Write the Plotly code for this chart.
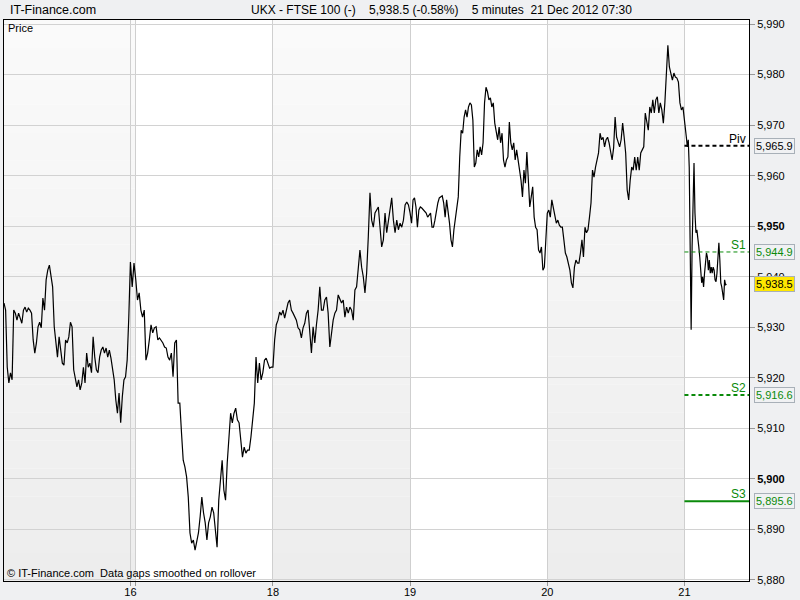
import plotly.graph_objects as go

# ---------------- data ----------------
sessions = ["14", "16", "17", "18", "19", "20", "21"]
session_bars = [94, 4, 102, 102, 102, 102, 32]      # 5-minute bars shown per session
shaded = [True, True, False, True, False, True, False]
labelled = [False, True, False, True, True, True, True]

prices_14 = [5934.8, 5933.4, 5922.1, 5919.0, 5921.0, 5919.6, 5933.4, 5932.8, 5931.4, 5932.8,
             5931.8, 5930.8, 5933.4, 5934.0, 5933.0, 5933.8, 5933.4, 5932.8, 5927.5, 5924.9,
             5926.9, 5930.1, 5931.0, 5929.9, 5935.8, 5933.4, 5939.4, 5941.3, 5942.3, 5940.3,
             5938.0, 5930.1, 5927.5, 5924.1, 5928.1, 5925.5, 5922.9, 5922.5, 5927.5, 5926.9,
             5928.1, 5931.0, 5930.1, 5921.6, 5920.2, 5918.2, 5919.6, 5917.6, 5919.0, 5922.1,
             5919.0, 5924.9, 5922.1, 5922.9, 5921.0, 5928.1, 5924.1, 5921.6, 5921.0, 5924.1,
             5925.5, 5926.1, 5924.9, 5925.9, 5924.1, 5925.5, 5923.9, 5921.6, 5919.6, 5915.6,
             5913.0, 5917.0, 5911.1, 5916.2, 5919.6, 5920.2, 5923.5, 5932.0]
prices_16 = [5942.9, 5938.0, 5942.7]
prices_17 = [5939.4, 5935.4, 5936.8, 5933.4, 5932.0, 5933.4, 5923.5, 5924.9, 5927.5, 5930.5,
             5928.9, 5929.9, 5930.1, 5927.5, 5927.9, 5927.5, 5926.9, 5926.1, 5925.9, 5924.1,
             5923.5, 5924.9, 5920.2, 5926.9, 5927.5, 5915.0, 5915.0, 5909.1, 5903.7, 5902.4,
             5900.4, 5896.4, 5889.3, 5887.3, 5887.9, 5885.9, 5887.3, 5889.3, 5892.5, 5896.4,
             5893.3, 5891.3, 5887.9, 5891.3, 5892.5, 5894.4, 5893.3, 5890.0, 5886.5, 5895.8,
             5900.4, 5903.7, 5897.8, 5895.8, 5903.2, 5907.7, 5913.0, 5911.1, 5913.0, 5914.0,
             5911.7, 5911.1, 5907.7, 5904.3, 5906.3, 5905.1, 5905.7, 5905.7, 5908.3, 5911.1,
             5915.0, 5924.1, 5919.0, 5922.9, 5919.6, 5921.0, 5923.5, 5923.9, 5922.9, 5921.9,
             5922.1]
prices_18 = [5922.1, 5927.5, 5930.5, 5931.4, 5933.0, 5932.4, 5933.4, 5931.8, 5933.4, 5934.8,
             5935.4, 5933.4, 5932.8, 5932.0, 5931.4, 5929.9, 5929.5, 5927.9, 5929.9, 5930.8,
             5932.8, 5933.4, 5928.9, 5924.9, 5930.1, 5926.9, 5930.5, 5933.4, 5938.0, 5933.4,
             5933.4, 5935.4, 5936.0, 5932.8, 5926.1, 5928.9, 5931.4, 5932.8, 5933.4, 5936.4,
             5935.4, 5934.8, 5935.4, 5932.0, 5934.0, 5932.8, 5934.0, 5933.4, 5931.4, 5937.4,
             5938.0, 5941.9, 5945.3, 5941.9, 5940.0, 5936.8, 5940.7, 5947.9, 5956.6, 5951.2,
             5949.8, 5952.6, 5953.2, 5953.8, 5949.8, 5945.9, 5947.3, 5952.6, 5948.7, 5951.2,
             5953.8, 5955.6, 5951.2, 5948.7, 5951.2, 5949.3, 5950.6, 5949.8, 5951.2, 5954.2,
             5954.8, 5954.2]
prices_19 = [5952.6, 5950.6, 5955.2, 5955.6, 5953.8, 5949.8, 5953.2, 5953.8, 5953.6, 5953.2,
             5952.8, 5952.6, 5951.8, 5952.2, 5952.6, 5949.8, 5949.8, 5951.2, 5953.2, 5954.6,
             5955.6, 5955.8, 5956.0, 5954.6, 5951.8, 5955.2, 5953.2, 5950.6, 5947.3, 5945.9,
             5949.3, 5951.8, 5953.8, 5955.8, 5963.7, 5969.0, 5968.4, 5971.6, 5973.0, 5971.6,
             5973.6, 5974.4, 5974.0, 5971.0, 5961.7, 5962.5, 5965.1, 5963.7, 5965.7, 5964.1,
             5966.5, 5974.4, 5977.5, 5976.6, 5975.0, 5975.4, 5973.6, 5974.4, 5970.4, 5969.0,
             5967.1, 5969.6, 5966.5, 5968.4, 5963.1, 5961.7, 5963.1, 5963.7, 5970.6, 5966.5,
             5965.1, 5966.5, 5963.1, 5965.1, 5962.5, 5961.1, 5959.1, 5955.8, 5961.1, 5958.5,
             5964.7, 5959.7, 5953.8, 5955.8, 5957.8, 5951.8, 5949.8, 5949.3, 5945.3, 5944.7,
             5945.9, 5941.3, 5941.9, 5947.3]
prices_20 = [5952.6, 5953.2, 5951.8, 5955.2, 5953.8, 5951.8, 5950.6, 5951.2, 5950.2, 5949.8,
             5949.8, 5947.3, 5944.7, 5943.9, 5942.7, 5941.3, 5938.8, 5937.8, 5941.9, 5943.3,
             5942.7, 5942.7, 5944.7, 5947.3, 5943.9, 5949.8, 5948.7, 5949.3, 5951.8, 5954.6,
             5961.1, 5959.7, 5961.7, 5963.1, 5964.5, 5968.4, 5967.1, 5967.6, 5965.7, 5967.1,
             5967.6, 5966.5, 5964.5, 5963.1, 5965.5, 5971.6, 5967.6, 5966.5, 5965.7, 5967.1,
             5970.4, 5967.6, 5964.5, 5957.2, 5955.2, 5959.1, 5961.7, 5961.1, 5963.7, 5961.1,
             5963.7, 5961.1, 5964.5, 5965.1, 5965.7, 5972.4, 5971.0, 5969.0, 5973.6, 5972.4,
             5975.0, 5972.4, 5975.0, 5975.6, 5972.4, 5974.4, 5973.0, 5970.4, 5974.4, 5980.9,
             5985.8, 5981.5, 5980.3, 5978.9, 5980.3, 5979.5, 5979.3, 5978.5, 5974.4, 5973.0,
             5973.6]
prices_21 = [5971.0, 5970.4, 5967.6, 5965.7, 5967.1, 5961.7, 5943.9, 5929.5, 5945.9, 5958.5,
             5962.5, 5952.6, 5948.7, 5949.3, 5947.9, 5945.9, 5943.9, 5940.7, 5938.8, 5940.0,
             5938.0, 5940.7, 5943.3, 5944.7, 5943.9, 5941.3, 5943.3, 5940.7, 5941.9, 5940.7,
             5941.9, 5941.3, 5939.4, 5939.0, 5940.7, 5944.7, 5946.7, 5943.3, 5938.8, 5938.0,
             5936.0, 5935.4, 5939.4, 5938.4, 5938.5]
session_prices = [prices_14, prices_16, prices_17, prices_18, prices_19, prices_20, prices_21]

pivot_names = ["Piv", "S1", "S2", "S3"]
pivot_values = [5965.9, 5944.9, 5916.6, 5895.6]
last_price = 5938.5
y_ticks = list(range(5880, 5991, 10))
title_text = "UKX - FTSE 100 (-)\u00a0\u00a0\u00a0 5,938.5 (-0.58%)\u00a0\u00a0\u00a0 5 minutes\u00a0 21 Dec 2012 07:30"

# ---------------- build series on a bar-index axis ----------------
xs, ys = [], []
starts = []
pos = 0
for nb, pr in zip(session_bars, session_prices):
    starts.append(pos)
    n = len(pr)
    for j, p in enumerate(pr):
        xs.append(pos + j * nb / n)
        ys.append(p)
    pos += nb
x_end = pos + 16
y_lo, y_hi = 5879.8, 5990.8

GREEN = "#0a8a0a"
FONT = "Liberation Sans, Arial, sans-serif"

fig = go.Figure()
fig.add_trace(go.Scatter(x=xs, y=ys, mode="lines",
                         line=dict(color="black", width=1.2), hoverinfo="skip"))

shapes = []
# gradient shading of alternate sessions
n_strips = 20
for i, (st, nb, sh) in enumerate(zip(starts, session_bars, shaded)):
    if not sh:
        continue
    x1 = st + nb
    for k in range(n_strips):
        t = k / (n_strips - 1)
        c = int(round(237 + (250 - 237) * t))
        shapes.append(dict(type="rect", xref="x", yref="y domain", x0=st, x1=x1,
                           y0=k / n_strips, y1=(k + 1) / n_strips,
                           fillcolor=f"rgb({c},{c},{c})", line=dict(width=0), layer="below"))

# pivot lines
pivot_styles = [("black", 2, "4px,3px"), (GREEN, 1, "4px,3px"), (GREEN, 2, "4px,3px"), (GREEN, 2, "solid")]
for val, (col, w, dash) in zip(pivot_values, pivot_styles):
    shapes.append(dict(type="line", xref="x", yref="y", x0=starts[-1], x1=x_end, y0=val, y1=val,
                       line=dict(color=col, width=w, dash=dash), layer="above"))

annotations = []
for name, val, (col, w, dash) in zip(pivot_names, pivot_values, pivot_styles):
    annotations.append(dict(x=x_end, y=val, xref="x", yref="y", text=name, showarrow=False,
                            xanchor="right", yanchor="bottom", xshift=-1, yshift=-2,
                            font=dict(family=FONT, size=12, color=col)))
    annotations.append(dict(x=1, y=val, xref="paper", yref="y", text=f"{val:,.1f}", showarrow=False,
                            xanchor="left", yanchor="middle", xshift=5,
                            bgcolor="#f0f1f3", bordercolor="#a8b0b8", borderwidth=1, borderpad=1,
                            font=dict(family=FONT, size=11, color=col)))
annotations.append(dict(x=1, y=last_price, xref="paper", yref="y", text=f"{last_price:,.1f}",
                        showarrow=False, xanchor="left", yanchor="middle", xshift=5,
                        bgcolor="#ffe800", bordercolor="#a8b0b8", borderwidth=1, borderpad=1,
                        font=dict(family=FONT, size=11, color="black")))

annotations.append(dict(x=0, y=1, xref="paper", yref="paper", text="IT-Finance.com", showarrow=False,
                        xanchor="left", yanchor="middle", xshift=4, yshift=10,
                        font=dict(family=FONT, size=12.5, color="black")))
annotations.append(dict(x=0.5866, y=1, xref="paper", yref="paper", text=title_text, showarrow=False,
                        xanchor="center", yanchor="middle", yshift=10,
                        font=dict(family=FONT, size=12, color="black")))
annotations.append(dict(x=0, y=1, xref="paper", yref="paper", text="Price", showarrow=False,
                        xanchor="left", yanchor="top", xshift=2, yshift=0,
                        font=dict(family=FONT, size=11, color="black")))
annotations.append(dict(x=0, y=0, xref="paper", yref="paper",
                        text="\u00a9 IT-Finance.com\u00a0 Data gaps smoothed on rollover", showarrow=False,
                        xanchor="left", yanchor="bottom", xshift=1, yshift=0,
                        font=dict(family=FONT, size=11, color="black")))

tick_x = starts[1:]
tick_t = [s if lab else "" for s, lab in zip(sessions[1:], labelled[1:])]
y_text = [f"<b>{v:,}</b>" if v % 50 == 0 else f"{v:,}" for v in y_ticks]

fig.update_layout(
    width=800, height=600,
    margin=dict(l=4, r=51, t=20, b=19),
    paper_bgcolor="#eff0f2", plot_bgcolor="white",
    showlegend=False, hovermode=False,
    shapes=shapes, annotations=annotations,
    xaxis=dict(range=[0, x_end], tickmode="array", tickvals=tick_x, ticktext=tick_t,
               showgrid=True, gridcolor="#cfcfcf", gridwidth=1, zeroline=False,
               ticks="outside", ticklen=4, tickcolor="#999999", ticklabelstandoff=-3,
               showline=True, linecolor="black", linewidth=1, mirror=True,
               tickfont=dict(family=FONT, size=11, color="black"), automargin=False),
    yaxis=dict(range=[y_lo, y_hi], side="right", tickmode="array", tickvals=y_ticks, ticktext=y_text,
               showgrid=True, gridcolor="#d2d2d2", gridwidth=1, zeroline=False,
               ticks="outside", ticklen=5, tickcolor="#999999",
               showline=True, linecolor="black", linewidth=1, mirror=True,
               tickfont=dict(family=FONT, size=11, color="black"), automargin=False),
)

fig.write_html("out.html", config={"displayModeBar": False},
               post_script="document.body.style.margin='0px';document.body.style.overflow='hidden';")
